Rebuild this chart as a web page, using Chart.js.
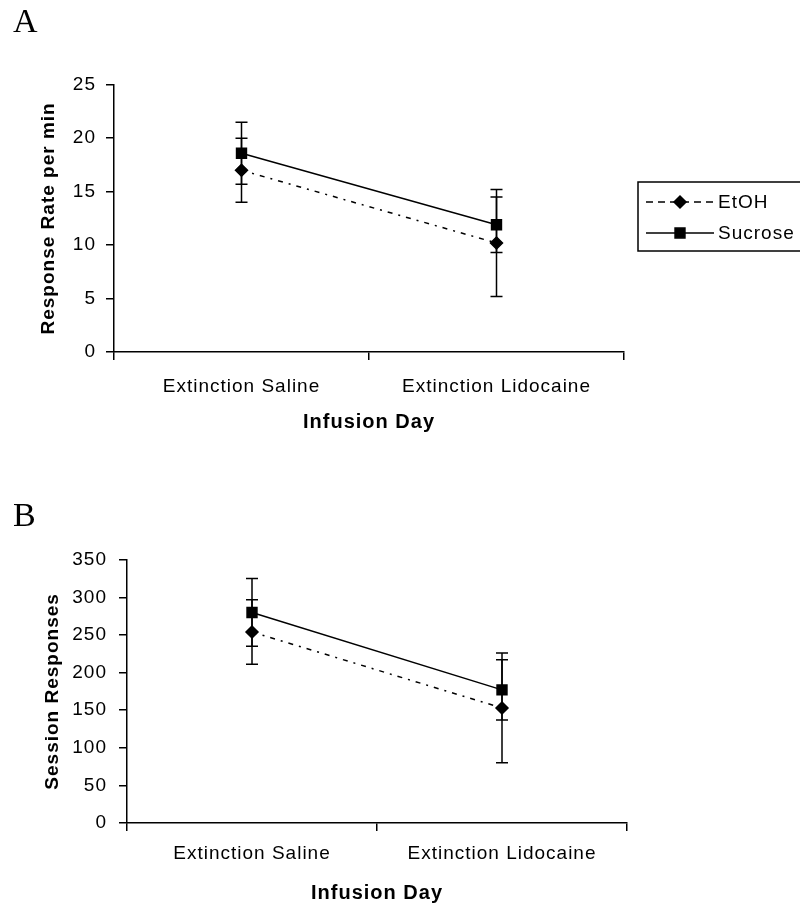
<!DOCTYPE html>
<html>
<head>
<meta charset="utf-8">
<script src="https://cdn.jsdelivr.net/npm/chart.js@4.4.1/dist/chart.umd.min.js"></script>
<style>
body { margin: 0; background: #fff; }
#wrap { position: relative; width: 800px; height: 910px; }
canvas { position: absolute; left: 0; }
</style>
</head>
<body>
<div id="wrap">
<canvas id="chartA" width="800" height="455" style="top:0"></canvas>
<canvas id="chartB" width="800" height="455" style="top:455px"></canvas>
</div>
<script>
// Data
var days = ['Extinction Saline', 'Extinction Lidocaine'];
var seriesNames = ['EtOH', 'Sucrose'];

// Panel A: response rate per min
var rateEtoh = [17.0, 10.2];
var rateEtohErr = [3.0, 5.0];
var rateSucrose = [18.6, 11.9];
var rateSucroseErr = [2.9, 2.6];
var rateTicks = { min: 0, max: 25, step: 5 };

// Panel B: session responses
var sessEtoh = [254, 153];
var sessEtohErr = [43, 73];
var sessSucrose = [280, 177];
var sessSucroseErr = [45, 40];
var sessTicks = { min: 0, max: 350, step: 50 };

Chart.defaults.font.family = '"Liberation Sans", Arial, sans-serif';
Chart.defaults.color = '#000';

// the scanned labels are a little spaced out
var spacedText = {
    id: 'spacedText',
    beforeDraw: function (chart) {
        chart.ctx.letterSpacing = '1px';
    }
};

// draws the +/- error bars with caps
var errorBars = {
    id: 'errorBars',
    afterDatasetsDraw: function (chart) {
        var ctx = chart.ctx;
        var y = chart.scales.y;
        ctx.save();
        ctx.strokeStyle = '#000';
        ctx.lineWidth = 1.5;
        chart.data.datasets.forEach(function (ds, i) {
            var meta = chart.getDatasetMeta(i);
            meta.data.forEach(function (pt, j) {
                var v = ds.data[j], e = ds.errors[j];
                var top = y.getPixelForValue(v + e);
                var bot = y.getPixelForValue(v - e);
                ctx.beginPath();
                ctx.moveTo(pt.x, top); ctx.lineTo(pt.x, bot);
                ctx.moveTo(pt.x - 6, top); ctx.lineTo(pt.x + 6, top);
                ctx.moveTo(pt.x - 6, bot); ctx.lineTo(pt.x + 6, bot);
                ctx.stroke();
            });
        });
        ctx.restore();
    }
};

// boxed legend to the right of panel A
var boxLegend = {
    id: 'boxLegend',
    afterDraw: function (chart) {
        var ctx = chart.ctx;
        ctx.save();
        ctx.strokeStyle = '#000';
        ctx.fillStyle = '#000';
        ctx.lineWidth = 1.5;
        ctx.strokeRect(638, 182, 180, 69);
        ctx.font = '19px "Liberation Sans", Arial, sans-serif';
        ctx.textBaseline = 'middle';
        chart.data.datasets.forEach(function (ds, i) {
            var rowY = 202 + i * 31;
            ctx.setLineDash(ds.legendDash);
            ctx.beginPath();
            ctx.moveTo(646, rowY);
            ctx.lineTo(714, rowY);
            ctx.stroke();
            ctx.setLineDash([]);
            Chart.helpers.drawPoint(ctx, { pointStyle: ds.pointStyle, radius: ds.pointRadius, borderWidth: 1 }, 680, rowY);
            ctx.fillText(ds.label, 718, rowY + 1);
        });
        ctx.restore();
    }
};

function makeDatasets(etoh, etohErr, sucrose, sucroseErr) {
    return [{
        label: seriesNames[0],
        data: etoh,
        errors: etohErr,
        borderColor: '#000',
        backgroundColor: '#000',
        borderWidth: 1.5,
        borderDash: [5, 6, 2, 6],
        legendDash: [7, 5],
        pointStyle: 'rectRot',
        pointRadius: 6,
        pointBackgroundColor: '#000',
        pointBorderColor: '#000',
        tension: 0
    }, {
        label: seriesNames[1],
        data: sucrose,
        errors: sucroseErr,
        borderColor: '#000',
        backgroundColor: '#000',
        borderWidth: 1.5,
        legendDash: [],
        pointStyle: 'rect',
        pointRadius: 7,
        pointBackgroundColor: '#000',
        pointBorderColor: '#000',
        tension: 0
    }];
}

function makeOptions(o) {
    return {
        responsive: false,
        animation: false,
        layout: { padding: o.padding },
        plugins: {
            legend: { display: false },
            tooltip: { enabled: false },
            title: {
                display: true,
                text: o.letter,
                align: 'start',
                color: '#000',
                font: { family: '"Liberation Serif", "Times New Roman", serif', size: 34, weight: 'normal' },
                padding: o.letterPad
            }
        },
        scales: {
            x: {
                offset: true,
                afterFit: function (s) { s.height = o.xHeight; },
                border: { display: true, color: '#000', width: 1.5 },
                grid: { display: true, offset: true, drawOnChartArea: false, drawTicks: true, tickLength: 8, color: '#000', lineWidth: 1.5 },
                ticks: { font: { size: 19 }, padding: o.xTickPad, maxRotation: 0, autoSkip: false },
                title: { display: true, text: 'Infusion Day', font: { size: 20, weight: 'bold' }, padding: { top: 0, bottom: o.xTitlePad } }
            },
            y: {
                min: o.ticks.min,
                max: o.ticks.max,
                afterFit: function (s) { s.width = o.yWidth; },
                border: { display: true, color: '#000', width: 1.5 },
                grid: { display: true, drawOnChartArea: false, drawTicks: true, tickLength: 8, color: '#000', lineWidth: 1.5 },
                ticks: { stepSize: o.ticks.step, font: { size: 19 }, padding: o.yTickPad },
                title: { display: true, text: o.yTitle, font: { size: 19, weight: 'bold' }, padding: { top: o.yTitlePad, bottom: 0 } }
            }
        }
    };
}

var chartA = new Chart(document.getElementById('chartA'), {
    type: 'line',
    data: { labels: days, datasets: makeDatasets(rateEtoh, rateEtohErr, rateSucrose, rateSucroseErr) },
    options: makeOptions({
        letter: 'A', letterPad: { top: 3, bottom: 41 },
        padding: { left: 13, right: 176, top: 0, bottom: 13 },
        xHeight: 90, xTickPad: 15, xTitlePad: 8,
        yWidth: 101, yTickPad: 10, yTitlePad: 24,
        yTitle: 'Response Rate per min', ticks: rateTicks
    }),
    plugins: [spacedText, errorBars, boxLegend]
});

var chartB = new Chart(document.getElementById('chartB'), {
    type: 'line',
    data: { labels: days, datasets: makeDatasets(sessEtoh, sessEtohErr, sessSucrose, sessSucroseErr) },
    options: makeOptions({
        letter: 'B', letterPad: { top: 42, bottom: 22 },
        padding: { left: 13, right: 173, top: 0, bottom: 2 },
        xHeight: 85, xTickPad: 11, xTitlePad: 3,
        yWidth: 114, yTickPad: 12, yTitlePad: 28,
        yTitle: 'Session Responses', ticks: sessTicks
    }),
    plugins: [spacedText, errorBars]
});
</script>
</body>
</html>
